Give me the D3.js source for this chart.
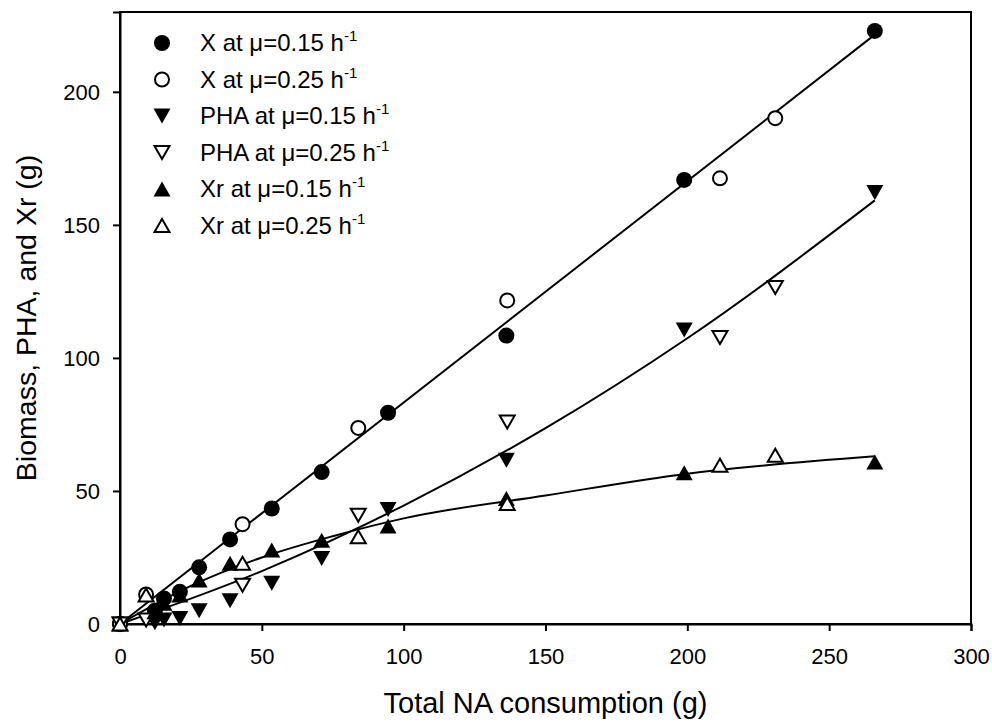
<!DOCTYPE html>
<html>
<head>
<meta charset="utf-8">
<script src="https://cdn.jsdelivr.net/npm/d3@7"></script>
<style>
  body { margin: 0; background: #fff; }
  text { font-family: "Liberation Sans", Arial, sans-serif; fill: #000; }
</style>
</head>
<body>
<div id="chart"></div>
<script>
// total NA consumed (g) for each run
const naLow = [0, 12.3, 15.5, 21.1, 27.9, 38.8, 53.5, 71.1, 94.5, 136.2, 198.9, 266.1];
const naHigh = [0, 9.2, 43.2, 84.0, 136.5, 211.5, 231.0];

// mu = 0.15 h-1
const xLow = [0, 5.0, 9.6, 12.1, 21.3, 31.8, 43.4, 57.1, 79.4, 108.4, 166.9, 222.9];
const phaLow = [0, 0.5, 1.5, 2.1, 5.0, 8.7, 15.3, 24.6, 43.0, 61.5, 110.5, 162.2];
const xrLow = [0, 4.6, 7.8, 10.9, 16.5, 22.8, 27.8, 31.5, 36.8, 47.2, 56.8, 60.9];

// mu = 0.25 h-1
const xHigh = [0, 11.1, 37.5, 73.7, 121.6, 167.5, 190.1];
const phaHigh = [0, 1.5, 14.6, 40.9, 75.9, 107.7, 126.5];
const xrHigh = [0, 10.9, 22.8, 32.8, 45.3, 59.7, 63.4];

// fitted curves
const fitXna = [0, 266.1];
const fitXval = [0, 221.5];
const fitPhaNa = [0, 50, 100, 150, 200, 266.1];
const fitPhaVal = [0, 19.9, 44.5, 73.6, 107.4, 159.2];
const fitXrNa = [0, 25, 50, 75, 100, 150, 200, 266.1];
const fitXrVal = [0, 14.3, 25.0, 33.0, 39.7, 48.3, 56.5, 63.0];

const xTicks = [0, 50, 100, 150, 200, 250, 300];
const yTicks = [0, 50, 100, 150, 200];

const width = 992;
const height = 724;
const margin = {top: 12, right: 21, bottom: 100, left: 120};

const svg = d3.select("#chart")
  .append("svg")
  .attr("width", width)
  .attr("height", height);

const xScale = d3.scaleLinear()
  .domain([0, 300])
  .range([margin.left, width - margin.right]);

const yScale = d3.scaleLinear()
  .domain([0, 230])
  .range([height - margin.bottom, margin.top]);

// frame
svg.append("rect")
  .attr("x", xScale(0))
  .attr("y", yScale(230))
  .attr("width", xScale(300) - xScale(0))
  .attr("height", yScale(0) - yScale(230))
  .attr("fill", "none")
  .attr("stroke", "#000")
  .attr("stroke-width", 2);

const xAxis = d3.axisBottom(xScale).tickValues(xTicks).tickSize(7).tickPadding(17).tickFormat(d3.format("d"));
const xg = svg.append("g")
  .attr("transform", `translate(0, ${yScale(0)})`)
  .call(xAxis);

const yAxis = d3.axisLeft(yScale).tickValues(yTicks).tickSize(7).tickPadding(13).tickFormat(d3.format("d"));
const yg = svg.append("g")
  .attr("transform", `translate(${xScale(0)}, 0)`)
  .call(yAxis);

[xg, yg].forEach(g => {
  g.select(".domain").attr("stroke-width", 2);
  g.selectAll(".tick line").attr("stroke-width", 2);
  g.selectAll(".tick text").style("font-size", "22px").attr("font-family", "Liberation Sans, Arial, sans-serif");
});
yg.selectAll(".tick text").attr("dy", "0.36em");

svg.append("text")
  .attr("x", (xScale(0) + xScale(300)) / 2)
  .attr("y", 713)
  .attr("text-anchor", "middle")
  .style("font-size", "29px")
  .text("Total NA consumption (g)");

svg.append("text")
  .attr("transform", `translate(36, ${(yScale(0) + yScale(230)) / 2}) rotate(-90)`)
  .attr("text-anchor", "middle")
  .style("font-size", "28.5px")
  .text("Biomass, PHA, and Xr (g)");

// fit lines
const line = d3.line()
  .x(d => xScale(d[0]))
  .y(d => yScale(d[1]))
  .curve(d3.curveMonotoneX);

const fits = [
  d3.zip(fitXna, fitXval),
  d3.zip(fitPhaNa, fitPhaVal),
  d3.zip(fitXrNa, fitXrVal)
];
svg.selectAll(".fit")
  .data(fits)
  .join("path")
  .attr("class", "fit")
  .attr("d", line)
  .attr("fill", "none")
  .attr("stroke", "#000")
  .attr("stroke-width", 2);

// symbols
const shapes = {
  circle: "M8,0A8,8 0 1,1 -8,0A8,8 0 1,1 8,0Z",
  ocircle: "M7,0A7,7 0 1,1 -7,0A7,7 0 1,1 7,0Z",
  down: "M-8.5,-7.5L8.5,-7.5L0,7.5Z",
  odown: "M-7.5,-6.5L7.5,-6.5L0,6.5Z",
  up: "M-8.5,7.5L8.5,7.5L0,-7.5Z",
  oup: "M-7.5,6.5L7.5,6.5L0,-6.5Z"
};

const series = [
  {label: "X", mu: "0.15", na: naLow, val: xLow, shape: "circle", open: false},
  {label: "X", mu: "0.25", na: naHigh, val: xHigh, shape: "ocircle", open: true},
  {label: "PHA", mu: "0.15", na: naLow, val: phaLow, shape: "down", open: false},
  {label: "PHA", mu: "0.25", na: naHigh, val: phaHigh, shape: "odown", open: true},
  {label: "Xr", mu: "0.15", na: naLow, val: xrLow, shape: "up", open: false},
  {label: "Xr", mu: "0.25", na: naHigh, val: xrHigh, shape: "oup", open: true}
];

series.forEach(s => {
  svg.append("g")
    .selectAll("path")
    .data(d3.zip(s.na, s.val))
    .join("path")
    .attr("transform", d => `translate(${xScale(d[0])}, ${yScale(d[1])})`)
    .attr("d", shapes[s.shape])
    .attr("fill", s.open ? "#fff" : "#000")
    .attr("stroke", "#000")
    .attr("stroke-width", s.open ? 2 : 0);
});

// legend
const legend = svg.append("g");
series.forEach((s, i) => {
  const ly = 43 + i * 36.5;
  legend.append("path")
    .attr("transform", `translate(162, ${ly})`)
    .attr("d", shapes[s.shape])
    .attr("fill", s.open ? "#fff" : "#000")
    .attr("stroke", "#000")
    .attr("stroke-width", s.open ? 2 : 0);
  const t = legend.append("text")
    .attr("x", 200)
    .attr("y", ly + 8)
    .style("font-size", "24px");
  t.append("tspan").text(`${s.label} at \u03bc=${s.mu} h`);
  t.append("tspan").attr("dy", -10).style("font-size", "15px").text("-1");
});
</script>
</body>
</html>
